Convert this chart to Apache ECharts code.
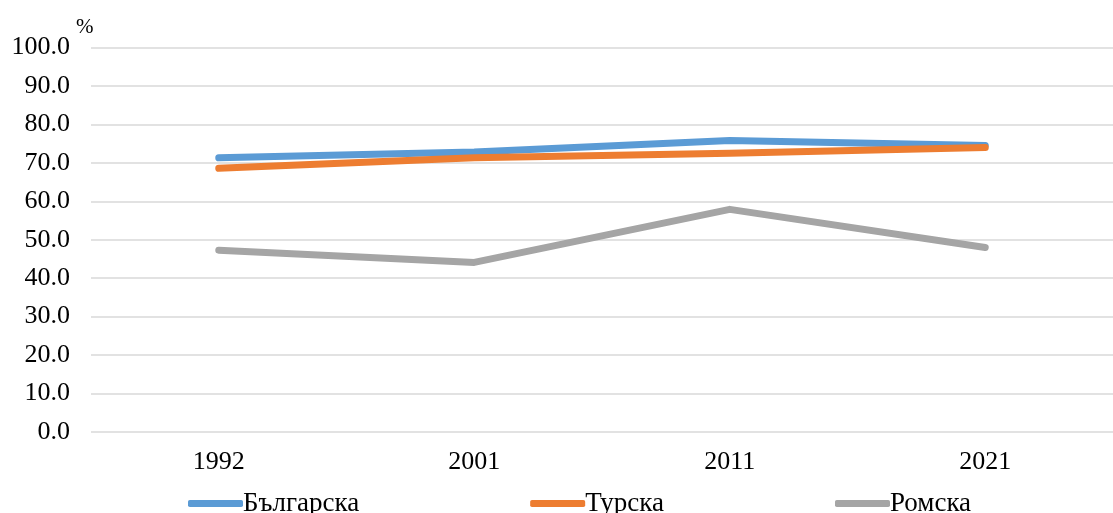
<!DOCTYPE html>
<html>
<head>
<meta charset="utf-8">
<script src="https://cdn.jsdelivr.net/npm/echarts@6/dist/echarts.min.js"></script>
<style>
  html, body { margin: 0; padding: 0; background: #fff; }
  #chart { width: 1113px; height: 513px; }
</style>
</head>
<body>
<div id="chart"></div>
<script>
// census years
const years = ['1992', '2001', '2011', '2021'];
// values in %
const bulgarian = [71.3, 72.8, 75.8, 74.5];
const turkish = [68.6, 71.3, 72.5, 74.0];
const roma = [47.3, 44.1, 57.9, 48.0];
const seriesNames = ['Българска', 'Турска', 'Ромска'];
const colors = ['#5B9BD5', '#ED7D31', '#A5A5A5'];

const font = 'Liberation Serif';

const chart = echarts.init(document.getElementById('chart'));

function makeLine(name, data, color) {
  return {
    name: name,
    type: 'line',
    data: data,
    showSymbol: false,
    symbol: 'none',
    color: color,
    lineStyle: { color: color, width: 7, cap: 'round', join: 'round' },
    animation: false
  };
}

chart.setOption({
  textStyle: { fontFamily: font },
  title: {
    text: '%',
    left: 71,
    top: 12,
    textStyle: { fontFamily: font, fontSize: 21, fontWeight: 'normal', color: '#000' }
  },
  grid: { left: 91, top: 47.5, width: 1036, height: 384.5, containLabel: false },
  legend: {
    data: seriesNames,
    top: 485,
    left: 183,
    itemWidth: 55,
    itemHeight: 7,
    itemGap: 171,
    icon: 'roundRect',
    textStyle: { fontFamily: font, fontSize: 27, color: '#000', padding: [0, 0, 0, -5] }
  },
  xAxis: {
    type: 'category',
    data: years,
    boundaryGap: true,
    axisLine: { show: false },
    axisTick: { show: false },
    axisLabel: { color: '#000', fontSize: 26, fontFamily: font, margin: 17 }
  },
  yAxis: {
    type: 'value',
    min: 0,
    max: 100,
    interval: 10,
    axisLine: { show: false },
    axisTick: { show: false },
    axisLabel: {
      color: '#000',
      fontSize: 26,
      fontFamily: font,
      margin: 21,
      formatter: v => v.toFixed(1)
    },
    splitLine: { lineStyle: { color: '#D9D9D9', width: 1.5 } }
  },
  series: [
    makeLine(seriesNames[0], bulgarian, colors[0]),
    makeLine(seriesNames[1], turkish, colors[1]),
    makeLine(seriesNames[2], roma, colors[2])
  ]
});
</script>
</body>
</html>
